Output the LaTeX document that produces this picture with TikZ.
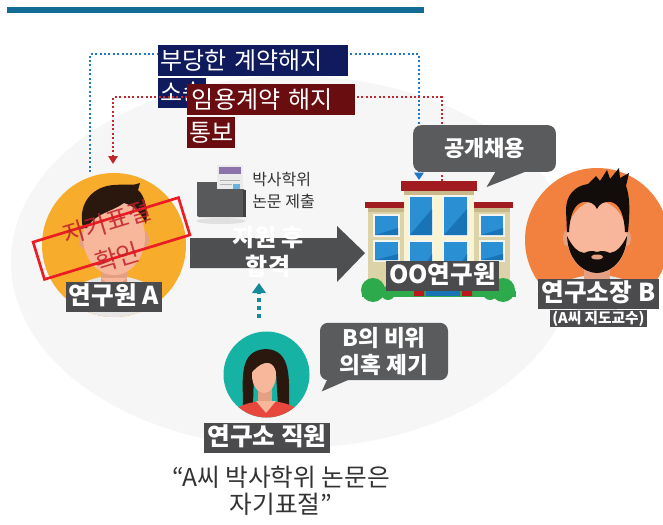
\documentclass[tikz,border=0pt]{standalone}
\usepackage{fontspec}
\setmainfont{Noto Sans CJK KR}
\usepackage{tikz}
\usetikzlibrary{arrows.meta,positioning,calc}
\definecolor{BarTeal}{HTML}{126B94}
\definecolor{PageGray}{HTML}{F6F6F6}
\definecolor{SuitNavy}{HTML}{0F1B5C}
\definecolor{NoticeRed}{HTML}{6A0D10}
\definecolor{DotBlue}{HTML}{1F78C8}
\definecolor{DotRed}{HTML}{C1272D}
\definecolor{TagGray}{HTML}{4B4B4D}
\definecolor{ArrowGray}{HTML}{4E4F51}
\definecolor{BubbleGray}{HTML}{5A5B5D}
\definecolor{OrangeA}{HTML}{F8AC2C}
\definecolor{OrangeB}{HTML}{F2803E}
\definecolor{TealCircle}{HTML}{16B3A5}
\definecolor{TealArrow}{HTML}{178A9A}
\definecolor{Skin}{HTML}{F8B79A}
\definecolor{SkinShade}{HTML}{E4A083}
\definecolor{HairBrown}{HTML}{2A180F}
\definecolor{HairBlack}{HTML}{120C0A}
\definecolor{ShirtGray}{HTML}{E6E6E6}
\definecolor{ShirtRed}{HTML}{E8473E}
\definecolor{StampRed}{HTML}{EC1C24}
\definecolor{StampText}{HTML}{C0202B}
\definecolor{RoofRed}{HTML}{A11C20}
\definecolor{RoofShade}{HTML}{C9B98A}
\definecolor{WallTan}{HTML}{DDD3A9}
\definecolor{WallCream}{HTML}{FBF4D2}
\definecolor{GlassBlue}{HTML}{2A8FD3}
\definecolor{GlassDark}{HTML}{1874B7}
\definecolor{FrameLight}{HTML}{F4F4F0}
\definecolor{BushGreen}{HTML}{2DAA4B}
\definecolor{FolderGray}{HTML}{58595B}
\definecolor{PaperPurple}{HTML}{8C72AA}
\definecolor{TextDark}{HTML}{333333}

% one window: frame, glass, darker lower half
\newcommand{\glasspane}[4]{%
  \fill[FrameLight] (#1-2,#2-2) rectangle (#3+2,#4+2);
  \fill[GlassBlue] (#1,#2) rectangle (#3,#4);
  \fill[GlassDark] (#1,#4) -- (#3,#2+12) -- (#3,#4) -- cycle;}

\begin{document}
\begin{tikzpicture}[x=0.75pt, y=-0.75pt,
  tag/.style={fill=TagGray, text=white, inner xsep=2.5pt, inner ysep=2pt,
    text height=15pt, text depth=3.5pt, font=\bfseries\fontsize{18.5}{21}\selectfont},
  notice/.style={anchor=north west, text=white, inner xsep=1.5pt, inner ysep=0pt,
    minimum height=23pt, font=\fontsize{18}{21}\selectfont},
  bubble/.style={fill=BubbleGray, text=white, rounded corners=6pt, align=center,
    font=\bfseries\fontsize{16.5}{20}\selectfont},
  dotline/.style={line width=1.5pt, dash pattern=on 1.5pt off 1.8pt}]
  \useasboundingbox (0,0) rectangle (663,524);
  \clip (0,0) rectangle (663,524);
  \fill[white] (0,0) rectangle (663,524);
  \fill[BarTeal] (7,7) rectangle (424,13);
  \fill[PageGray] (293,262) ellipse (282 and 186);

  % lawsuit line, behind the navy label
  \coordinate (blueA) at (90,172);
  \coordinate (bldBlue) at (419,180);
  \draw[dotline, DotBlue, -{Triangle[width=7pt,length=5.5pt]}]
    (blueA) -- ++(0,-118) -| (bldBlue);
  \node[notice, fill=SuitNavy, text width=139pt] (suit1) at (158,45) {부당한 계약해지};
  \node[notice, fill=SuitNavy, below=1pt of suit1.south west, anchor=north west] (suit2) {소송};

  % dismissal notice line
  \coordinate (bldRed) at (442,181);
  \coordinate (aRed) at (113,164);
  \draw[dotline, DotRed, -{Triangle[width=7pt,length=6pt]}]
    (bldRed) -- ++(0,-84) -| (aRed);
  \node[notice, fill=NoticeRed, text width=119pt, inner xsep=3.5pt] (notice1) at (187,84) {임용계약 해지};
  \node[notice, fill=NoticeRed, below=1.5pt of notice1.south west, anchor=north west] (notice2) {통보};

  % researcher A
  \fill[OrangeA] (114,245) circle (72);
  \begin{scope}
    \clip (114,245) circle (72);
    \fill[ShirtGray] (114,308) ellipse (50 and 32);
    \fill[SkinShade] (101,255) rectangle (127,283);
    \fill[Skin] (101,278) -- (127,278) -- (114,288) -- cycle;
  \end{scope}
  \fill[SkinShade] (84,240) ellipse (5 and 9);
  \fill[SkinShade] (144,240) ellipse (5 and 9);
  \fill[Skin] (114,237) ellipse (31 and 38);
  \fill[HairBrown] (83,228) .. controls (77,202) and (94,186) .. (114,185)
    .. controls (126,184) and (134,186) .. (140,183) -- (138,190)
    .. controls (146,197) and (148,212) .. (146,224)
    .. controls (141,212) and (134,206) .. (124,203)
    .. controls (112,212) and (95,213) .. (87,228) -- cycle;
  \draw[StampRed, line width=2pt, rotate around={17:(111.5,238.5)}]
    (35.5,219) rectangle (187.5,258);
  \node[text=StampText, opacity=0.85, rotate=17, align=center,
    font=\fontsize{18.5}{27}\selectfont] (stampA) at (112,240) {자기표절\\확인};
  \node[tag] (labA) at (114,297) {연구원 A};

  % thesis folder
  \fill[black!12] (221,221) ellipse (25 and 3);
  \fill[FolderGray] (197,182) rectangle (218,192);
  \fill[black!8] (217,165) rectangle (243,205);
  \fill[PaperPurple] (219,167) rectangle (241,174);
  \draw[black!30, line width=0.6pt] (220,180) -- (240,180) (220,184) -- (232,184);
  \fill[GlassBlue!70] (233,184) rectangle (240,190);
  \fill[FolderGray, rounded corners=1.5pt] (197,189) rectangle (245,217);
  \fill[black!75] (243,190) rectangle (246,217);
  \node[anchor=north west, align=left, text=TextDark, inner sep=0pt,
    font=\fontsize{12}{16.5}\selectfont] (thesis) at (252,172) {박사학위\\논문 제출};

  % application arrow
  \fill[ArrowGray] (190,238) -- (337,238) -- (337,226) -- (365,253)
    -- (337,282) -- (337,268) -- (190,268) -- cycle;
  \node[text=white, align=center, font=\bfseries\fontsize{18}{21.75}\selectfont]
    (pass) at (268,252) {지원 후\\합격};

  % report from the staff member
  \coordinate (staffTop) at (259,318);
  \coordinate (passTip) at (259,283);
  \draw[TealArrow, line width=3pt, dash pattern=on 3pt off 3pt,
    -{Triangle[width=10pt,length=7.5pt]}] (staffTop) -- (passTip);

  % institute building
  \fill[WallTan] (368,210) rectangle (510,296);
  \fill[RoofRed] (365,202) rectangle (513,208);
  \fill[RoofShade] (368,208) rectangle (510,212);
  \fill[WallCream] (404,191) rectangle (474,296);
  \fill[RoofRed] (401,181) rectangle (477,191);
  \fill[RoofShade] (404,191) rectangle (474,195);
  \foreach \xa/\ya/\xb/\yb in {410/197/432/235, 444/197/467/235,
      410/242/432/290, 444/242/467/290, 375/216/398/235, 375/242/398/260,
      481/216/503/235, 481/242/503/260}
    {\glasspane{\xa}{\ya}{\xb}{\yb}}
  \fill[BushGreen] (373,290) circle (12) (388,293) circle (7)
    (503,290) circle (12) (490,293) circle (7);
  \fill[BushGreen] (362,291) rectangle (516,297);
  \fill[StampRed!80!black] (414,291) rectangle (424,296) (462,291) rectangle (472,296);
  \fill[GlassDark] (426,291) rectangle (460,296);
  \node[tag] (labBld) at (442.5,275.5) {OO연구원};

  % open recruitment bubble
  \node[bubble, minimum width=107pt, minimum height=35pt] (hire) at (484.5,148.5) {공개채용};
  \fill[BubbleGray] ($(hire.south)+(12,-2)$) -- ($(hire.south)+(45,-2)$)
    -- ($(hire.south)+(2,15)$) -- cycle;

  % director B
  \fill[OrangeB] (597,240) circle (72);
  \begin{scope}
    \clip (597,240) circle (72);
    \fill[ShirtGray] (597,305) ellipse (50 and 30);
    \fill[SkinShade] (584,255) rectangle (610,284);
  \end{scope}
  \fill[SkinShade] (567,238) ellipse (4 and 8);
  \fill[SkinShade] (627,238) ellipse (4 and 8);
  \fill[Skin] (597,237) ellipse (30 and 36);
  \fill[HairBlack] (567,232) -- (566,210) .. controls (566,196) and (574,186) .. (588,184)
    -- (596,176) -- (600,181) -- (607,170) -- (610,179) -- (619,168) -- (620,178)
    -- (629,173) -- (626,186) .. controls (630,196) and (630,212) .. (628,232)
    -- (625,232) .. controls (624,215) and (620,204) .. (611,202)
    .. controls (604,201) and (599,204) .. (597,209)
    .. controls (595,204) and (590,201) .. (583,202)
    .. controls (574,204) and (570,215) .. (569,232) -- cycle;
  \fill[HairBlack] (567,236) .. controls (568,262) and (585,273) .. (597,273)
    .. controls (609,273) and (626,262) .. (627,236)
    .. controls (622,246) and (617,252) .. (610,253)
    .. controls (604,250) and (600,251) .. (597,252)
    .. controls (594,251) and (590,250) .. (584,253)
    .. controls (577,252) and (572,246) .. (567,236) -- cycle;
  \fill[SkinShade] (597,257) ellipse (6 and 2.5);
  \node[tag, anchor=west] (labB) at (538,293.5) {연구소장 B};
  \node[tag, below=1pt of labB, font=\bfseries\fontsize{11}{13}\selectfont,
    text height=9pt, text depth=2.5pt, inner ysep=0.5pt, inner xsep=2pt] (labB2) {(A씨 지도교수)};

  % staff member
  \fill[TealCircle] (266.5,374.5) circle (43);
  \fill[HairBrown] (243,405) .. controls (243,380) and (238,350) .. (266,349)
    .. controls (292,350) and (289,380) .. (289,405) -- (278,405) -- (276,372)
    -- (254,372) -- (253,405) -- cycle;
  \begin{scope}
    \clip (266.5,374.5) circle (43);
    \fill[ShirtRed] (266.5,425) ellipse (42 and 24);
    \fill[SkinShade] (258,385) rectangle (272,402);
    \fill[Skin] (256,401) -- (276,401) -- (266,413) -- cycle;
  \end{scope}
  \fill[Skin] (264,375) ellipse (12 and 18);
  \fill[HairBrown] (252,372) .. controls (251,354) and (262,350) .. (269,351)
    .. controls (279,353) and (280,362) .. (277,374)
    .. controls (274,362) and (266,357) .. (252,372) -- cycle;
  \node[tag] (labStaff) at (267,437.5) {연구소 직원};

  % misconduct bubble
  \node[bubble, minimum width=96pt, minimum height=43pt, font=\bfseries\fontsize{17}{20}\selectfont]
    (claim) at (384,351.5) {B의 비위\\의혹 제기};
  \fill[BubbleGray] ($(claim.south west)+(8,-2)$) -- ($(claim.south west)+(32,-2)$)
    -- ($(claim.south west)+(2,11)$) -- cycle;

  % staff statement
  \node[text=TextDark, align=center, font=\fontsize{18.5}{20.5}\selectfont]
    (quote) at (281,491) {“A씨 박사학위 논문은\\자기표절”};
\end{tikzpicture}
\end{document}
